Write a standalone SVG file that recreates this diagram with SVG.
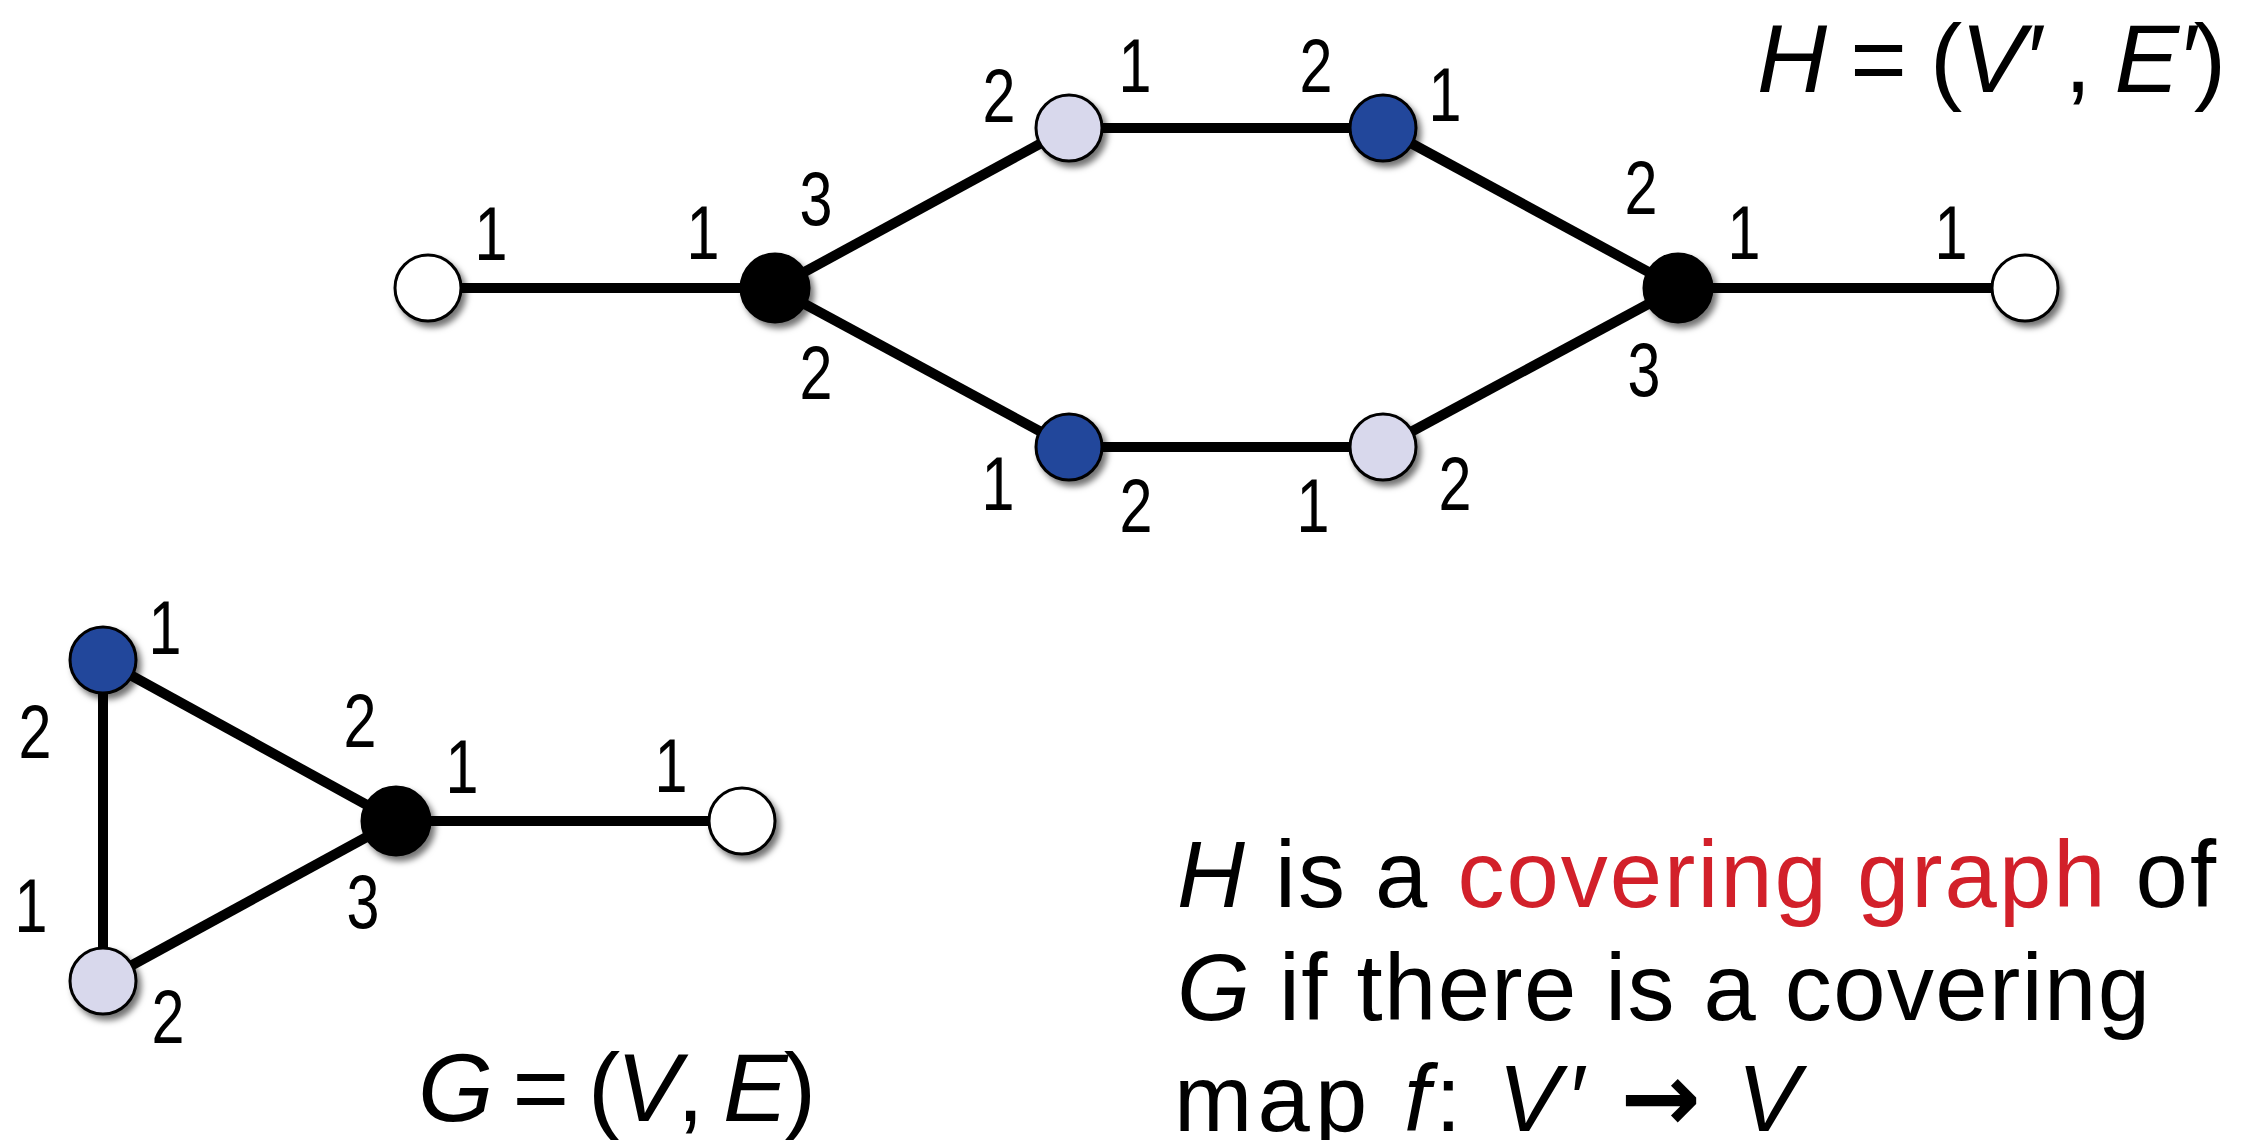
<svg xmlns="http://www.w3.org/2000/svg" width="2255" height="1140" viewBox="0 0 2255 1140">
<style>
.edge{stroke:#000;stroke-width:10;stroke-linecap:butt;fill:none}
.node{stroke:#000;stroke-width:3;filter:url(#sh)}
.w{fill:#fff}.k{fill:#000}.l{fill:#d8d8ec}.b{fill:#22469b}
.d{font-family:"Liberation Sans",Arial,sans-serif;font-size:76px;fill:#000;text-anchor:middle}
.t{font-family:"Liberation Sans",Arial,sans-serif;font-size:94px;fill:#000}
.m{font-family:"Liberation Sans",Arial,sans-serif;font-size:97px;fill:#000}
.i{font-style:italic}
.red{fill:#d2202a}
.arr{font-family:"DejaVu Sans",sans-serif;font-weight:bold;font-size:96px}
</style>
<defs>
<filter id="sh" x="-30%" y="-30%" width="170%" height="170%">
<feDropShadow dx="4" dy="5" stdDeviation="3" flood-color="#000" flood-opacity="0.55"/>
</filter>
</defs>
<g id="connectors">
<line class="edge" x1="428" y1="288" x2="775" y2="288"/>
<line class="edge" x1="775" y1="288" x2="1069" y2="128"/>
<line class="edge" x1="1069" y1="128" x2="1383" y2="128"/>
<line class="edge" x1="1383" y1="128" x2="1678" y2="288"/>
<line class="edge" x1="1678" y1="288" x2="2025" y2="288"/>
<line class="edge" x1="775" y1="288" x2="1069" y2="447"/>
<line class="edge" x1="1069" y1="447" x2="1383" y2="447"/>
<line class="edge" x1="1383" y1="447" x2="1678" y2="288"/>
<line class="edge" x1="103" y1="660" x2="103" y2="981"/>
<line class="edge" x1="103" y1="660" x2="396" y2="821"/>
<line class="edge" x1="103" y1="981" x2="396" y2="821"/>
<line class="edge" x1="396" y1="821" x2="742" y2="821"/>
</g>
<g id="h-white-left"><circle class="node w" cx="428" cy="288" r="33"/></g>
<g id="h-black-left"><circle class="node k" cx="775" cy="288" r="34"/></g>
<g id="h-light-top"><circle class="node l" cx="1069" cy="128" r="33"/></g>
<g id="h-blue-top"><circle class="node b" cx="1383" cy="128" r="33"/></g>
<g id="h-black-right"><circle class="node k" cx="1678" cy="288" r="34"/></g>
<g id="h-white-right"><circle class="node w" cx="2025" cy="288" r="33"/></g>
<g id="h-blue-bottom"><circle class="node b" cx="1069" cy="447" r="33"/></g>
<g id="h-light-bottom"><circle class="node l" cx="1383" cy="447" r="33"/></g>
<g id="g-blue"><circle class="node b" cx="103" cy="660" r="33"/></g>
<g id="g-light"><circle class="node l" cx="103" cy="981" r="33"/></g>
<g id="g-black"><circle class="node k" cx="396" cy="821" r="34"/></g>
<g id="g-white"><circle class="node w" cx="742" cy="821" r="33"/></g>
<g id="port-labels">
<text class="d" transform="translate(491,260) scale(0.78,1)">1</text>
<text class="d" transform="translate(703,259) scale(0.78,1)">1</text>
<text class="d" transform="translate(816,225) scale(0.78,1)">3</text>
<text class="d" transform="translate(816,399) scale(0.78,1)">2</text>
<text class="d" transform="translate(999,122) scale(0.78,1)">2</text>
<text class="d" transform="translate(1135,92) scale(0.78,1)">1</text>
<text class="d" transform="translate(1316,92) scale(0.78,1)">2</text>
<text class="d" transform="translate(1445,121) scale(0.78,1)">1</text>
<text class="d" transform="translate(1641,214) scale(0.78,1)">2</text>
<text class="d" transform="translate(1744,259) scale(0.78,1)">1</text>
<text class="d" transform="translate(1951,259) scale(0.78,1)">1</text>
<text class="d" transform="translate(1644,396) scale(0.78,1)">3</text>
<text class="d" transform="translate(998,510) scale(0.78,1)">1</text>
<text class="d" transform="translate(1136,532) scale(0.78,1)">2</text>
<text class="d" transform="translate(1313,532) scale(0.78,1)">1</text>
<text class="d" transform="translate(1455,510) scale(0.78,1)">2</text>
<text class="d" transform="translate(165,654) scale(0.78,1)">1</text>
<text class="d" transform="translate(35,758) scale(0.78,1)">2</text>
<text class="d" transform="translate(31,932) scale(0.78,1)">1</text>
<text class="d" transform="translate(168,1043) scale(0.78,1)">2</text>
<text class="d" transform="translate(360,747) scale(0.78,1)">2</text>
<text class="d" transform="translate(462,793) scale(0.78,1)">1</text>
<text class="d" transform="translate(671,792) scale(0.78,1)">1</text>
<text class="d" transform="translate(363,928) scale(0.78,1)">3</text>
</g>
<g id="title-H">
<text class="m" x="1757" y="92" textLength="469" lengthAdjust="spacing"><tspan class="i">H</tspan> = (<tspan class="i">V′</tspan> , <tspan class="i">E′</tspan>)</text>
</g>
<g id="title-G">
<text class="m" x="418" y="1121" textLength="398" lengthAdjust="spacing"><tspan class="i">G</tspan> = (<tspan class="i">V</tspan>, <tspan class="i">E</tspan>)</text>
</g>
<g id="caption">
<text class="t" x="1177" y="907" textLength="1039" lengthAdjust="spacing"><tspan class="i">H</tspan> is a <tspan class="red">covering graph</tspan> of</text>
<text class="t" x="1177" y="1020" textLength="973" lengthAdjust="spacing"><tspan class="i">G</tspan> if there is a covering</text>
<text class="t" x="1174" y="1131" textLength="626" lengthAdjust="spacing">map <tspan class="i">f</tspan>: <tspan class="i">V′</tspan> <tspan class="arr">→</tspan> <tspan class="i">V</tspan></text>
</g>
</svg>
